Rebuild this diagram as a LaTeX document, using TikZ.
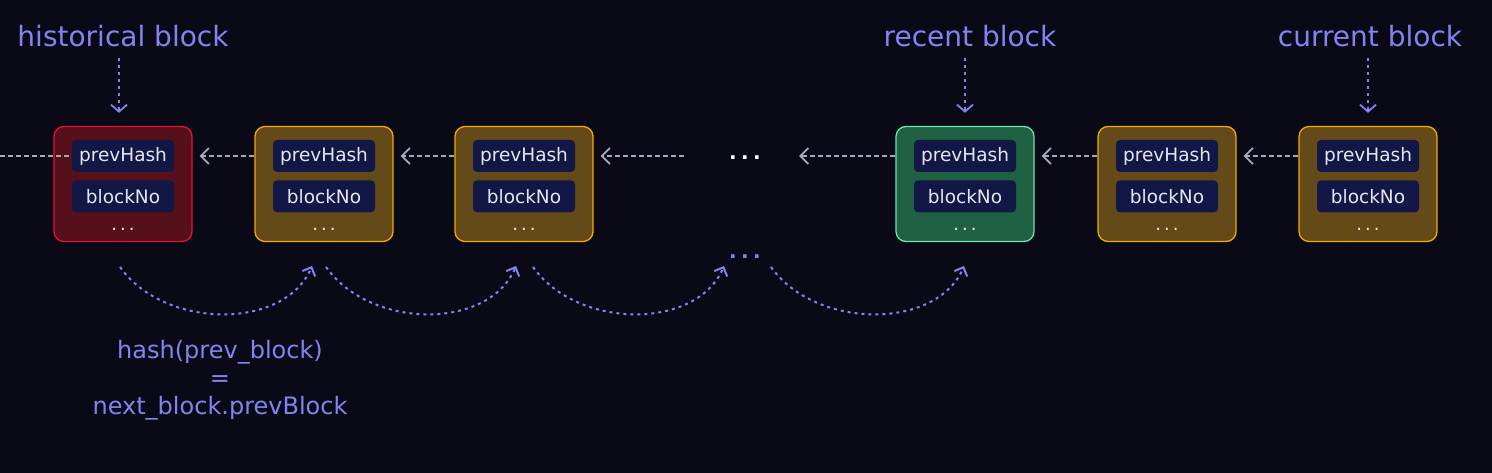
\documentclass[tikz,border=0pt]{standalone}
\usepackage{fontspec}
\setmainfont{DejaVu Sans}
\usetikzlibrary{positioning,arrows.meta}

\definecolor{bgnavy}{HTML}{0A0A17}
\definecolor{oldline}{HTML}{E4123A}
\definecolor{oldfill}{HTML}{561019}
\definecolor{chainline}{HTML}{F2AA00}
\definecolor{chainfill}{HTML}{654A19}
\definecolor{recentline}{HTML}{6CE3B0}
\definecolor{recentfill}{HTML}{1F6142}
\definecolor{fieldfill}{HTML}{131746}
\definecolor{fieldtext}{HTML}{E6E6F0}
\definecolor{linkgray}{HTML}{A8A8B8}
\definecolor{hopblue}{HTML}{8383F2}

\tikzset{
  block/.style={draw, line width=1.3pt, rounded corners=10pt,
    minimum width=138pt, minimum height=115pt},
  oldblock/.style={block, draw=oldline, fill=oldfill},
  chainblock/.style={block, draw=chainline, fill=chainfill},
  recentblock/.style={block, draw=recentline, fill=recentfill},
  field/.style={fill=fieldfill, rounded corners=4pt, inner sep=0pt,
    minimum width=102pt, minimum height=32pt, text=fieldtext,
    font=\fontsize{18.5}{20}\selectfont},
  fielddots/.style={inner sep=0pt, text=fieldtext, font=\fontsize{18}{20}\selectfont},
  link/.style={draw=linkgray, line width=1.6pt, dash pattern=on 5pt off 3pt,
    -{Straight Barb[length=8pt,width=16pt,line width=1.8pt]}},
  hop/.style={draw=hopblue, line width=2pt, dash pattern=on 3pt off 4pt,
    -{Straight Barb[length=7pt,width=14pt,line width=2pt]}},
  pointer/.style={draw=hopblue, line width=1.8pt, dash pattern=on 3pt off 4pt,
    -{Straight Barb[length=7pt,width=16pt,line width=1.8pt]}},
  tag/.style={text=hopblue, font=\fontsize{28}{32}\selectfont},
  skipdots/.style={inner sep=0pt, font=\bfseries\fontsize{20}{24}\selectfont}
}

\begin{document}
\begin{tikzpicture}[x=1pt, y=-1pt]
\useasboundingbox[fill=bgnavy] (0,0) rectangle (1492,473);

% blocks of the chain
\foreach \i/\x/\s in {1/123/oldblock, 2/324/chainblock, 3/524/chainblock,
                      4/965/recentblock, 5/1167/chainblock, 6/1368/chainblock}{
  \node[\s] (b\i) at (\x,184) {};
  \node[field] (p\i) at (\x,156) {prevHash};
  \node[field, below=8pt of p\i] (n\i) {blockNo};
  \node[fielddots] (d\i) at ([yshift=-17pt]n\i.south) {.\hspace{3pt}.\hspace{3pt}.};
}

\node[skipdots, text=white] (skip) at (745,158) {.\hspace{4.4pt}.\hspace{4.4pt}.};
\node[skipdots, text=hopblue] (more) at (745,257) {.\hspace{4.4pt}.\hspace{4.4pt}.};

% prevHash links
\coordinate (edge) at (0,156);
\draw[link, -] (edge) -- (p1.west);
\draw[link, shorten >=7pt] (b2.west |- p2) -- (b1.east |- p1);
\draw[link, shorten >=7pt] (b3.west |- p3) -- (b2.east |- p2);
\draw[link, shorten <=45pt, shorten >=7pt] (skip.west |- p3) -- (b3.east |- p3);
\draw[link, shorten >=38pt] (b4.west |- p4) -- (skip.east |- p4);
\draw[link, shorten >=7pt] (b5.west |- p5) -- (b4.east |- p4);
\draw[link, shorten >=7pt] (b6.west |- p6) -- (b5.east |- p5);

% labels
\node[tag] (hist) at (123,36) {historical block};
\node[tag] (recent) at (970,36) {recent block};
\node[tag] (current) at (1370,36) {current block};
\draw[pointer, shorten <=8pt, shorten >=13pt] ([xshift=-4pt]hist.south -| b1.north) -- ([xshift=-4pt]b1.north);
\draw[pointer, shorten <=8pt, shorten >=13pt] (recent.south -| b4.north) -- (b4.north);
\draw[pointer, shorten <=8pt, shorten >=13pt] (current.south -| b6.north) -- (b6.north);

% hash hops
\coordinate (s1) at (120,267);
\coordinate (e1) at (312,266);
\coordinate (s2) at (326,267);
\coordinate (e2) at (516,266);
\coordinate (s3) at (533,267);
\coordinate (e3) at (724,266);
\coordinate (s4) at (771,267);
\coordinate (e4) at (964,266);
\draw[hop] (s1) .. controls +(45,63) and +(-27,64) .. (e1);
\draw[hop] (s2) .. controls +(45,63) and +(-27,64) .. (e2);
\draw[hop] (s3) .. controls +(45,63) and +(-27,64) .. (e3);
\draw[hop] (s4) .. controls +(45,63) and +(-27,64) .. (e4);

\node[tag, align=center, font=\fontsize{24}{28}\selectfont] (rule) at (220,380)
  {hash(prev\_block)\\=\\next\_block.prevBlock};
\end{tikzpicture}
\end{document}
